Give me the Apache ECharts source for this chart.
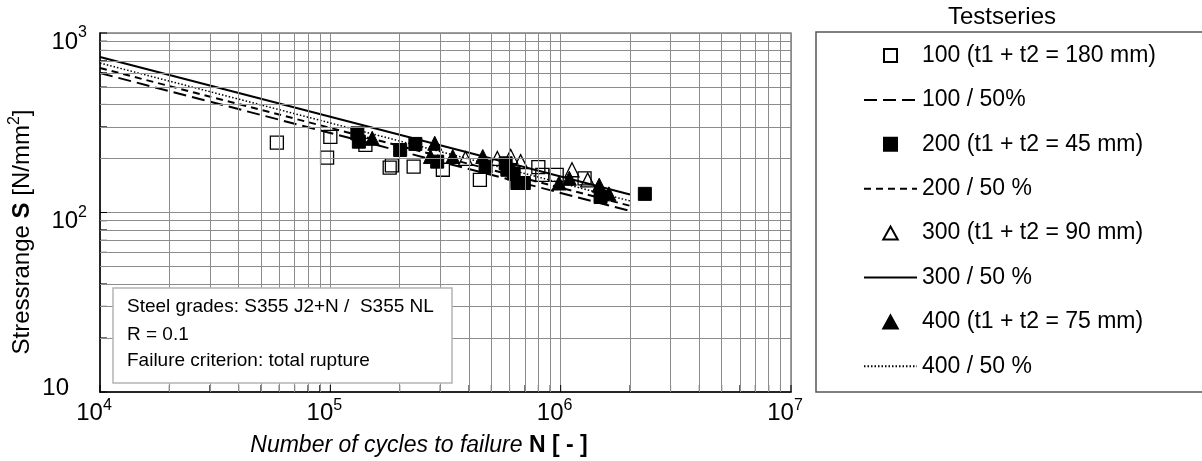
<!DOCTYPE html>
<html><head><meta charset="utf-8">
<script src="https://cdn.jsdelivr.net/npm/echarts@6/dist/echarts.min.js"></script>
<style>html,body{margin:0;padding:0;background:#fff}#c{width:1202px;height:461px}</style>
</head><body><div id="c"></div>
<script>
const FONT = "'Liberation Sans', Arial, sans-serif";

// Test series 100 (open squares)
const s100N = [58600, 96800, 100000, 142000, 181000, 185000, 230000, 308000, 446000, 800000, 832000, 961000, 1270000];
const s100S = [245, 202, 264, 238, 178, 183, 180, 173, 152, 179, 162, 162, 155];
// Test series 200 (filled squares)
const s200N = [131000, 133000, 201000, 234000, 291000, 472000, 577000, 587000, 625000, 649000, 692000, 1490000, 2320000];
const s200S = [276, 248, 223, 241, 192, 180, 188, 173, 165, 146, 146, 122, 127];
// Test series 300 (open triangles)
const s300N = [386000, 531000, 607000, 670000, 1120000, 1310000];
const s300S = [200, 200, 205, 192, 173, 152];
// Test series 400 (filled triangles)
const s400N = [152000, 272000, 284000, 340000, 459000, 600000, 984000, 1090000, 1470000, 1500000, 1620000];
const s400S = [259, 205, 243, 205, 205, 182, 146, 155, 142, 128, 127];

// 50 % regression lines (end points)
const lineN = [10000, 2000000];
const l100S = [598, 102];
const l200S = [638, 109];
const l300S = [735, 126];
const l400S = [680, 116];

// grid / tick positions
const xMajor = [10000, 100000, 1000000, 10000000];
const xMinor = [20000, 30000, 40000, 50000, 60000, 70000, 80000, 90000,
                200000, 300000, 400000, 500000, 600000, 700000, 800000, 900000,
                2000000, 3000000, 4000000, 5000000, 6000000, 7000000, 8000000, 9000000];
const yMajor = [10, 100, 1000];
const yMinor = [20, 30, 40, 50, 60, 70, 80, 90, 200, 300, 400, 500, 600, 700, 800, 900];

const names = ['100 (t1 + t2 = 180 mm)', '100 / 50%', '200 (t1 + t2 = 45 mm)', '200 / 50 %',
               '300 (t1 + t2 = 90 mm)', '300 / 50 %', '400 (t1 + t2 = 75 mm)', '400 / 50 %'];
const infoLines = ['Steel grades: S355 J2+N /  S355 NL', 'R = 0.1', 'Failure criterion: total rupture'];

const zip = (a, b) => a.map((v, i) => [v, b[i]]);
const GRID = '#8c8c8c';
const SQ = 'path://M0,0L10,0L10,10L0,10Z';
const TRI = 'path://M5,0L10,9L0,9Z';

const chart = echarts.init(document.getElementById('c'), null, {renderer: 'canvas'});

const scatter = (name, N, S, symbol, filled) => ({
  name, type: 'scatter', symbol, symbolSize: symbol === 'rect' ? 13 : 14,
  data: zip(N, S),
  itemStyle: filled ? {color: '#000', borderColor: '#000', borderWidth: 1, opacity: 1}
                    : {color: 'rgba(0,0,0,0)', borderColor: '#000', borderWidth: 1.3, opacity: 1},
  z: 3
});
const line = (name, S, type, width) => ({
  name, type: 'line', symbol: 'none', showSymbol: false, data: zip(lineN, S),
  lineStyle: {color: '#000', width, type, opacity: 1}, itemStyle: {color: '#000', opacity: 0}, z: 3
});

const tickSeries = (data, horizontal) => ({
  type: 'custom', silent: true, z: 4, data,
  renderItem: (params, api) => {
    const p = api.coord([api.value(0), api.value(1)]);
    return {type: 'line',
      shape: horizontal ? {x1: p[0], y1: p[1], x2: p[0] + 7, y2: p[1]}
                        : {x1: p[0], y1: p[1], x2: p[0], y2: p[1] - 7},
      style: {stroke: '#000', lineWidth: 1}};
  }
});

const option = {
  animation: false,
  backgroundColor: '#fff',
  textStyle: {fontFamily: FONT},
  grid: {left: 100, top: 33, right: 411, bottom: 69, show: true, borderColor: '#808080', borderWidth: 1.5, backgroundColor: 'transparent'},
  xAxis: {
    type: 'log', logBase: 10, min: 10000, max: 10000000,
    axisLine: {show: true, onZero: false, lineStyle: {color: '#000', width: 1.5}},
    axisTick: {show: false},
    splitLine: {show: true, lineStyle: {color: GRID, width: 1}},
    axisLabel: {
      margin: 2, padding: [0, 12, 0, 0], showMinLabel: true, showMaxLabel: true,
      formatter: v => '{b|10}{s|' + Math.round(Math.log10(v)) + '}',
      rich: {
        b: {fontSize: 24, fontFamily: FONT, color: '#000', lineHeight: 24, padding: [14, 0, 0, 0]},
        s: {fontSize: 16, fontFamily: FONT, color: '#000', lineHeight: 16}
      }
    }
  },
  yAxis: {
    type: 'log', logBase: 10, min: 10, max: 1000,
    axisLine: {show: true, onZero: false, lineStyle: {color: '#000', width: 1.5}},
    axisTick: {show: false},
    splitLine: {show: true, lineStyle: {color: GRID, width: 1}},
    axisLabel: {
      margin: 13, showMinLabel: true, showMaxLabel: true,
      formatter: v => {
        const e = Math.round(Math.log10(v));
        return e === 1 ? '{p|10}{sp|}' : '{b|10}{s|' + e + '}';
      },
      rich: {
        b: {fontSize: 24, fontFamily: FONT, color: '#000', lineHeight: 24, padding: [18, 0, 0, 0]},
        s: {fontSize: 16, fontFamily: FONT, color: '#000', lineHeight: 16},
        p: {fontSize: 24, fontFamily: FONT, color: '#000', lineHeight: 24, padding: [0, 0, 8, 0]},
        sp: {width: 18}
      }
    }
  },
  legend: {
    data: [
      {name: names[0], icon: SQ}, {name: names[1]},
      {name: names[2], icon: SQ}, {name: names[3]},
      {name: names[4], icon: TRI}, {name: names[5]},
      {name: names[6], icon: TRI}, {name: names[7]}
    ],
    orient: 'vertical', left: 863, top: 44, padding: 0,
    itemWidth: 53, itemHeight: 13, itemGap: 21.4, selectedMode: false, symbolKeepAspect: true,
    textStyle: {fontSize: 23, fontFamily: FONT, color: '#000', lineHeight: 22}
  },
  series: [
    {type: 'line', name: 'grid', data: [], silent: true, z: 1,
     markLine: {silent: true, symbol: ['none', 'none'], label: {show: false}, animation: false,
       lineStyle: {color: GRID, width: 1, type: 'solid'},
       emphasis: {disabled: true},
       data: xMinor.map(v => ({xAxis: v})).concat(yMinor.map(v => ({yAxis: v})))}},
    scatter(names[0], s100N, s100S, 'rect', false),
    line(names[1], l100S, [13, 6], 2),
    scatter(names[2], s200N, s200S, 'rect', true),
    line(names[3], l200S, [7, 5], 2),
    scatter(names[4], s300N, s300S, 'triangle', false),
    line(names[5], l300S, 'solid', 2),
    scatter(names[6], s400N, s400S, 'triangle', true),
    line(names[7], l400S, [1.5, 2], 1.5),
    tickSeries(xMinor.concat(xMajor).map(v => [v, 10]), false),
    tickSeries(yMinor.concat(yMajor).map(v => [10000, v]), true)
  ],
  graphic: [
    {type: 'text', x: 1002, y: 17, silent: true,
     style: {text: 'Testseries', font: '24px ' + FONT, fill: '#000', textAlign: 'center', textVerticalAlign: 'middle'}},
    {type: 'rect', silent: true, z: 0,
     shape: {x: 816, y: 32, width: 400, height: 360},
     style: {fill: 'none', stroke: '#555', lineWidth: 1.5}},
    {type: 'text', x: 22, y: 232, rotation: Math.PI / 2, silent: true,
     style: {text: '{n|Stressrange }{b|S}{n| [N/mm}{s|2}{n|]}', textAlign: 'center', textVerticalAlign: 'middle',
       font: '24px ' + FONT, fill: '#000',
       rich: {
         n: {fontSize: 24, fontFamily: FONT, fill: '#000'},
         b: {fontSize: 24, fontFamily: FONT, fontWeight: 'bold', fill: '#000'},
         s: {fontSize: 16, fontFamily: FONT, fill: '#000', padding: [0, 0, 14, 0]}
       }}},
    {type: 'text', x: 419, y: 446, silent: true,
     style: {text: '{i|Number of cycles to failure }{b|N [ - ]}', textAlign: 'center', textVerticalAlign: 'middle',
       font: '23px ' + FONT, fill: '#000',
       rich: {
         i: {fontSize: 23, fontFamily: FONT, fontStyle: 'italic', fill: '#000'},
         b: {fontSize: 23, fontFamily: FONT, fontWeight: 'bold', fill: '#000'}
       }}},
    {type: 'rect', silent: true, z: 100,
     shape: {x: 113, y: 288, width: 339, height: 95},
     style: {fill: '#fff', stroke: '#b4b4b4', lineWidth: 1.5}},
    {type: 'text', x: 127, y: 307, silent: true, z: 101,
     style: {text: infoLines[0], font: '19px ' + FONT, fill: '#000', textVerticalAlign: 'middle'}},
    {type: 'text', x: 127, y: 335, silent: true, z: 101,
     style: {text: infoLines[1], font: '19px ' + FONT, fill: '#000', textVerticalAlign: 'middle'}},
    {type: 'text', x: 127, y: 361, silent: true, z: 101,
     style: {text: infoLines[2], font: '19px ' + FONT, fill: '#000', textVerticalAlign: 'middle'}}
  ]
};
chart.setOption(option);
</script>
</body></html>
